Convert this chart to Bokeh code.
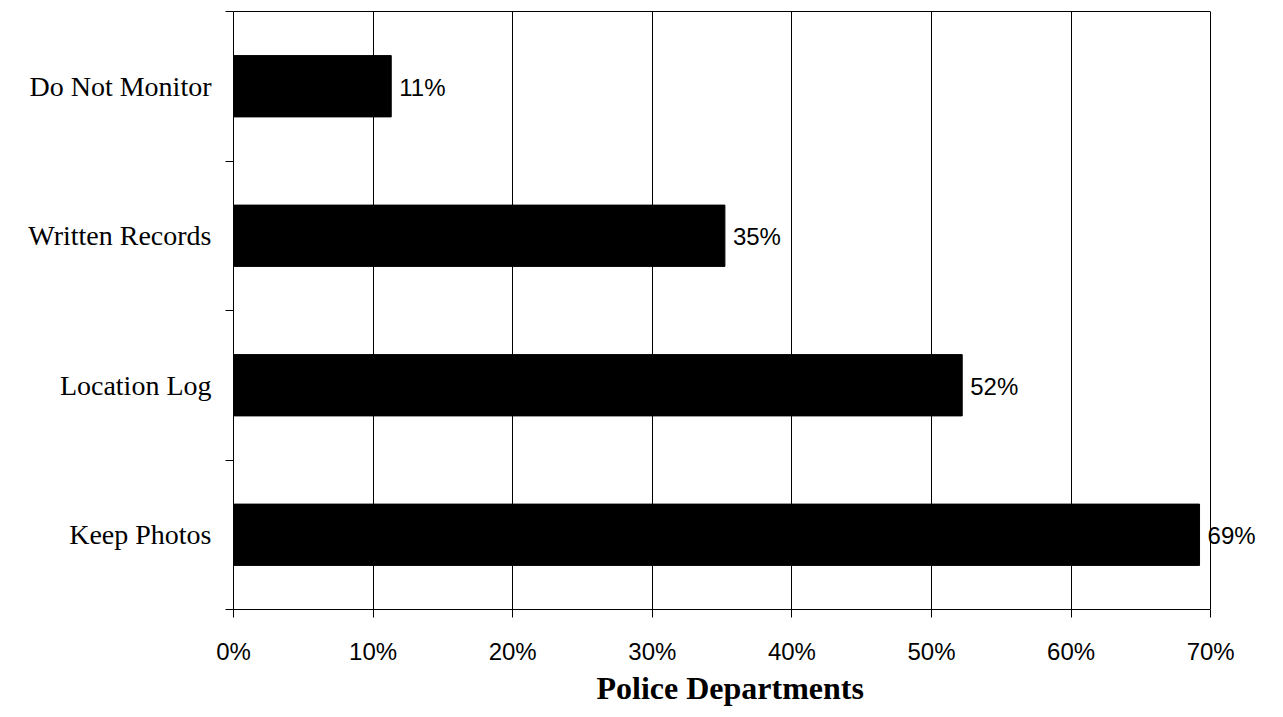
from bokeh.plotting import figure
from bokeh.models import FixedTicker, ColumnDataSource, Range1d, NumeralTickFormatter, LinearAxis, Title
from bokeh.core.properties import value
from bokeh.embed import file_html
from bokeh.resources import INLINE

# Monitoring practices, listed bottom to top
categories = ["Keep Photos", "Location Log", "Written Records", "Do Not Monitor"]
shares = [0.692, 0.522, 0.352, 0.113]
x_ticks = [0.0, 0.1, 0.2, 0.3, 0.4, 0.5, 0.6, 0.7]
x_max = 0.7

pos = [i + 0.5 for i in range(len(categories))]
labels = [f"{round(s * 100):d}%" for s in shares]
src = ColumnDataSource(dict(y=pos, share=shares, label=labels, cat=categories))

# frame runs a little past 70% so the last value label has room
p = figure(width=1283, height=717, output_backend="svg", toolbar_location=None,
           x_range=Range1d(0, 0.75), y_range=Range1d(0, len(categories)),
           min_border_left=233, min_border_right=3, min_border_top=11,
           min_border_bottom=108)
p.outline_line_color = None

p.hbar(y="y", left=0, right="share", height=0.41, source=src,
       fill_color="black", line_color="black")

p.text(x="share", y="y", text="label", source=src, x_offset=8, y_offset=1,
       text_baseline="middle", text_align="left",
       text_font=value("Liberation Sans"), text_font_size="24px", text_color="black")

# grid
p.ygrid.grid_line_color = None
p.xgrid.grid_line_color = "black"
p.xgrid.grid_line_width = 1
p.xgrid.ticker = FixedTicker(ticks=x_ticks)

# x axis
xa = p.xaxis[0]
xa.bounds = (0, x_max)
xa.ticker = FixedTicker(ticks=x_ticks)
xa.formatter = NumeralTickFormatter(format="0%")
xa.axis_line_color = "black"
xa.major_tick_line_color = "black"
xa.major_tick_in = 0
xa.major_tick_out = 8
xa.minor_tick_line_color = None
xa.major_label_text_font = "Liberation Sans"
xa.major_label_text_font_size = "24px"
xa.major_label_text_color = "black"
xa.major_label_standoff = 20

# axis title, centred under the 0-70% span
p.add_layout(Title(text="Police Departments", align="left", offset=363, standoff=0,
                   text_font="Liberation Serif", text_font_style="bold",
                   text_font_size="32px", text_color="black"), "below")

# top edge of the plot area
top = LinearAxis(bounds=(0, x_max), ticker=FixedTicker(ticks=[]),
                 axis_line_color="black", major_tick_line_color=None,
                 minor_tick_line_color=None, major_label_text_font_size="0px",
                 major_tick_out=0, major_label_standoff=0)
p.add_layout(top, "above")

# y axis: names at band centres, ticks at band edges
ya = p.yaxis[0]
ya.ticker = FixedTicker(ticks=pos, minor_ticks=[float(i) for i in range(len(categories) + 1)])
ya.major_label_overrides = {pv: c for pv, c in zip(pos, categories)}
ya.axis_line_color = "black"
ya.major_tick_line_color = None
ya.major_tick_in = 0
ya.major_tick_out = 0
ya.minor_tick_line_color = "black"
ya.minor_tick_in = 0
ya.minor_tick_out = 8
ya.major_label_text_font = "Liberation Serif"
ya.major_label_text_font_size = "28px"
ya.major_label_text_color = "black"
ya.major_label_standoff = 14

open("out.html", "w").write(file_html(p, INLINE))
